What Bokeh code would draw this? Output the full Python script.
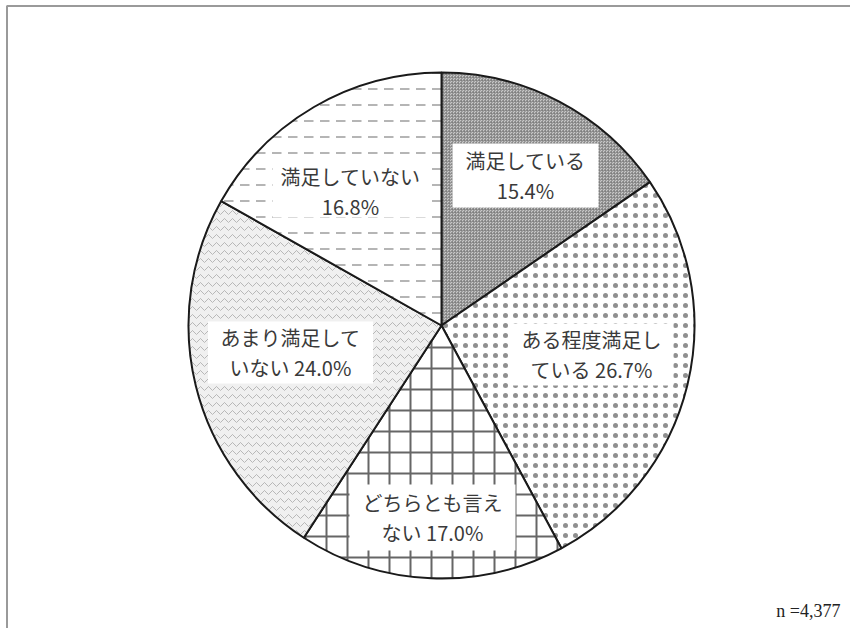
import math
from bokeh.plotting import figure
from bokeh.models import Range1d, ColumnDataSource
from bokeh.core.properties import value
from bokeh.embed import file_html
from bokeh.resources import INLINE

# ---- data ----
categories = ["満足している", "ある程度満足している", "どちらとも言えない", "あまり満足していない", "満足していない"]
shares = [15.4, 26.7, 17.0, 24.0, 16.8]
label_break = [6, 7, 7, 7, 7]
sample_note = "n =4,377"

# ---- style ----
hatch_patterns = ["criss_cross", "dot", "cross", "horizontal_wave", "horizontal_dash"]
fill_colors = ["#c8c8c8", "white", "white", "#f0f0f0", "white"]
hatch_colors = ["#7a7a7a", "#8f8f8f", "#666666", "#b8b8b8", "#b5b5b5"]
hatch_scales = [3, 10, 21, 8, 16]
hatch_weights = [0.6, 1.4, 2, 1, 2]
label_pos = [(525, 175), (591, 354), (432, 517), (290, 352), (350, 191)]
box_size = [(146, 64), (164, 62), (166, 66), (165, 62), (156, 52)]

W, H = 850, 628
def py(y):
    return H - y

p = figure(width=W, height=H, output_backend="svg", toolbar_location=None,
           x_range=Range1d(0, W), y_range=Range1d(0, H), min_border=0)
p.axis.visible = False
p.grid.visible = False
p.outline_line_color = None
p.background_fill_color = "white"

# frame (top and left edges)
p.line([6.5, 6.5, W], [py(H), py(5.5), py(5.5)], line_color="#9a9a9a", line_width=2)

cx, cy, r = 441, py(325), 253
total = sum(shares)
starts, ends = [], []
acc = 0.0
for s in shares:
    starts.append(math.pi / 2 - acc / total * 2 * math.pi)
    acc += s
    ends.append(math.pi / 2 - acc / total * 2 * math.pi)

for i in range(len(shares)):
    p.wedge(x=cx, y=cy, radius=r, radius_units="screen",
            start_angle=starts[i], end_angle=ends[i], direction="clock",
            fill_color=fill_colors[i], hatch_pattern=hatch_patterns[i],
            hatch_color=hatch_colors[i], hatch_scale=hatch_scales[i],
            hatch_weight=hatch_weights[i], line_color="#1a1a1a", line_width=2)

labels = []
for c, v, k in zip(categories, shares, label_break):
    rest = c[k:]
    labels.append(c[:k] + "\n" + (rest + " " if rest else "") + f"{v:.1f}%")

src = ColumnDataSource(dict(
    x=[q[0] for q in label_pos], y=[py(q[1]) for q in label_pos],
    w=[b[0] for b in box_size], h=[b[1] for b in box_size], t=labels))

p.rect(x="x", y="y", width="w", height="h", source=src,
       fill_color="white", line_color=None)
p.text(x="x", y="y", text="t", source=src, text_align="center",
       text_baseline="middle", text_font=value("Noto Sans CJK JP"),
       text_font_size="20px", text_color="#3a3a3a", text_line_height=1.05)

p.text(x=[840], y=[py(610)], text=[sample_note], text_align="right",
       text_baseline="middle", text_font=value("Liberation Serif"),
       text_font_size="18px", text_color="#222222")

open("out.html", "w").write(file_html(p, INLINE))
